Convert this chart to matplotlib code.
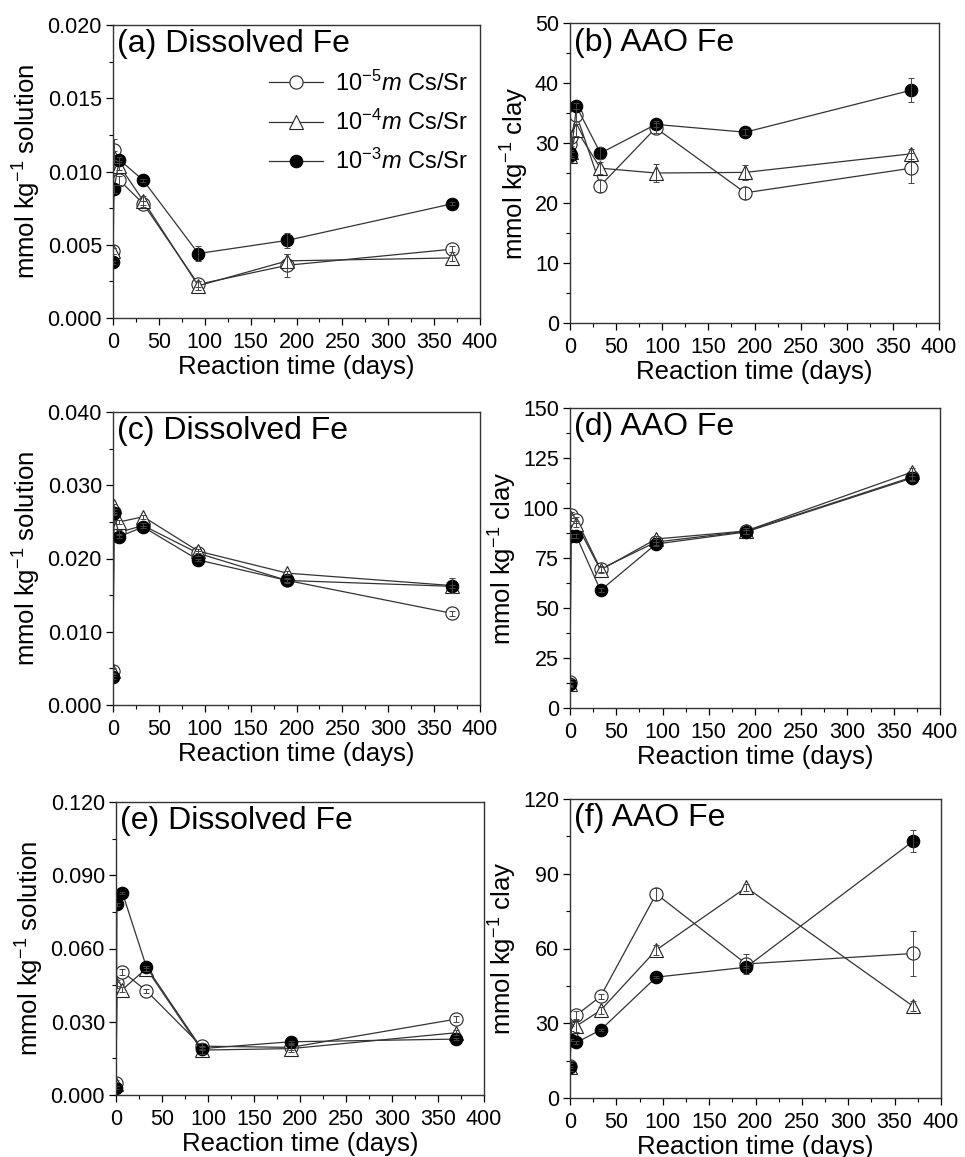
import numpy as np
import matplotlib
matplotlib.use("Agg")
import matplotlib.pyplot as plt
from matplotlib.ticker import MultipleLocator, FormatStrFormatter

plt.rcParams['font.family'] = ['Liberation Sans', 'DejaVu Sans']
plt.rcParams['mathtext.fontset'] = 'custom'
plt.rcParams['mathtext.rm'] = 'Liberation Sans'
plt.rcParams['mathtext.it'] = 'Liberation Sans:italic'

days = [0, 1, 7, 33, 93, 190, 370]
labels = [r'10$^{-5}$$m$ Cs/Sr', r'10$^{-4}$$m$ Cs/Sr', r'10$^{-3}$$m$ Cs/Sr']

# (a) dissolved Fe
a_lo = [0.0046, 0.0115, 0.0094, 0.0078, 0.0023, 0.0036, 0.0047]
a_mid = [0.0046, 0.0110, 0.0104, 0.0080, 0.0022, 0.0039, 0.0041]
a_hi = [0.0038, 0.0088, 0.0108, 0.0094, 0.0044, 0.0053, 0.0078]
a_lo_err = [0.0002, 0.0007, 0.0003, 0.0002, 0.0002, 0.0008, 0.0002]
a_mid_err = [0.0002, 0.0004, 0.0003, 0.0003, 0.0003, 0.0005, 0.0002]
a_hi_err = [0.0001, 0.0003, 0.0002, 0.0001, 0.0005, 0.0005, 0.0001]

# (b) AAO Fe
b_lo = [29.9, 31.0, 34.7, 22.9, 32.5, 21.7, 25.8]
b_mid = [27.9, 28.5, 32.2, 25.8, 25.0, 25.1, 28.2]
b_hi = [28.3, 28.0, 36.1, 28.3, 33.1, 31.8, 38.8]
b_lo_err = [1.0, 1.0, 1.0, 1.0, 0.8, 1.0, 2.5]
b_mid_err = [1.0, 1.0, 1.0, 1.0, 1.5, 1.3, 0.8]
b_hi_err = [0.5, 0.5, 0.5, 1.0, 0.5, 0.5, 2.0]

# (c) dissolved Fe
c_lo = [0.0046, 0.0264, 0.0236, 0.0245, 0.0207, 0.0170, 0.0125]
c_mid = [0.0047, 0.0271, 0.0250, 0.0257, 0.0210, 0.0180, 0.0163]
c_hi = [0.0038, 0.0262, 0.0230, 0.0243, 0.0198, 0.0170, 0.0162]
c_lo_err = [0.0003, 0.0003, 0.0003, 0.0003, 0.0003, 0.0003, 0.0003]
c_mid_err = [0.0003, 0.0003, 0.0003, 0.0003, 0.0003, 0.0003, 0.0010]
c_hi_err = [0.0002, 0.0002, 0.0002, 0.0002, 0.0002, 0.0002, 0.0002]

# (d) AAO Fe
d_lo = [12.8, 96.7, 94.2, 69.5, 83.0, 88.3, 115.5]
d_mid = [12.0, 95.0, 92.0, 69.0, 84.5, 88.5, 118.0]
d_hi = [12.0, 85.8, 85.8, 58.8, 82.0, 88.0, 115.0]
d_lo_err = [1.5, 1.5, 1.5, 1.5, 1.5, 1.5, 2.0]
d_mid_err = [1.5, 1.5, 1.5, 1.5, 1.5, 1.5, 2.0]
d_hi_err = [1.0, 1.0, 1.0, 1.0, 1.0, 1.0, 1.0]

# (e) dissolved Fe
e_lo = [0.0048, 0.0457, 0.0505, 0.0427, 0.0200, 0.0195, 0.0311]
e_mid = [0.0045, 0.0450, 0.0432, 0.0518, 0.0184, 0.0190, 0.0255]
e_hi = [0.0030, 0.0781, 0.0828, 0.0525, 0.0190, 0.0218, 0.0229]
e_lo_err = [0.0012, 0.0012, 0.0012, 0.0008, 0.0012, 0.0012, 0.0012]
e_mid_err = [0.0010, 0.0012, 0.0012, 0.0012, 0.0015, 0.0015, 0.0010]
e_hi_err = [0.0005, 0.0005, 0.0005, 0.0005, 0.0005, 0.0005, 0.0005]

# (f) AAO Fe
f_lo = [13.0, 28.2, 33.3, 40.8, 81.9, 53.8, 58.0]
f_mid = [12.5, 27.5, 28.9, 35.2, 59.4, 84.5, 36.8]
f_hi = [12.5, 23.2, 22.3, 27.3, 48.5, 52.5, 103.1]
f_lo_err = [2.0, 1.5, 1.5, 1.0, 2.5, 4.0, 9.0]
f_mid_err = [1.5, 1.5, 2.5, 1.5, 2.0, 1.5, 2.0]
f_hi_err = [0.5, 0.5, 0.5, 0.5, 0.5, 0.5, 4.5]

W, H = 965, 1157
fig = plt.figure(figsize=(W / 100, H / 100), dpi=100)


def box(x0, x1, y0, y1):
    return [x0 / W, 1 - y1 / H, (x1 - x0) / W, (y1 - y0) / H]


panels = [
    ('(a) Dissolved Fe', box(113, 480, 25, 318), (a_lo, a_mid, a_hi), (a_lo_err, a_mid_err, a_hi_err),
     0.020, 0.005, 0.0025, '%.3f', r'mmol kg$^{-1}$ solution'),
    ('(b) AAO Fe', box(570, 939, 23, 323), (b_lo, b_mid, b_hi), (b_lo_err, b_mid_err, b_hi_err),
     50, 10, 5, '%d', r'mmol kg$^{-1}$ clay'),
    ('(c) Dissolved Fe', box(113, 480, 412, 705), (c_lo, c_mid, c_hi), (c_lo_err, c_mid_err, c_hi_err),
     0.040, 0.010, 0.005, '%.3f', r'mmol kg$^{-1}$ solution'),
    ('(d) AAO Fe', box(570, 940, 408, 708), (d_lo, d_mid, d_hi), (d_lo_err, d_mid_err, d_hi_err),
     150, 25, 12.5, '%d', r'mmol kg$^{-1}$ clay'),
    ('(e) Dissolved Fe', box(116, 484, 802, 1095), (e_lo, e_mid, e_hi), (e_lo_err, e_mid_err, e_hi_err),
     0.120, 0.030, 0.015, '%.3f', r'mmol kg$^{-1}$ solution'),
    ('(f) AAO Fe', box(570, 941, 799, 1098), (f_lo, f_mid, f_hi), (f_lo_err, f_mid_err, f_hi_err),
     120, 30, 15, '%d', r'mmol kg$^{-1}$ clay'),
]

styles = [dict(marker='o', mfc='white', mec='#222222', ms=9.5),
          dict(marker='^', mfc='white', mec='#222222', ms=10),
          dict(marker='o', mfc='black', mec='black', ms=9)]

for i, (title, rect, series, errs, ymax, major, minor, fmt, ylab) in enumerate(panels):
    ax = fig.add_axes(rect)
    for s, e, st, lab in zip(series, errs, styles, labels):
        ax.plot(days, s, color='#333333', lw=0.9, mew=0.8, label=lab, zorder=2, **st)
        ax.errorbar(days, s, yerr=e, fmt='none', ecolor='#444444', elinewidth=0.7,
                    capsize=2.5, capthick=0.7, zorder=3)
    ax.set_xlim(0, 400)
    ax.set_ylim(0, ymax)
    ax.xaxis.set_major_locator(MultipleLocator(50))
    ax.xaxis.set_minor_locator(MultipleLocator(25))
    ax.yaxis.set_major_locator(MultipleLocator(major))
    ax.yaxis.set_minor_locator(MultipleLocator(minor))
    ax.yaxis.set_major_formatter(FormatStrFormatter(fmt))
    ax.tick_params(which='major', direction='out', length=5, width=0.9, labelsize=15.5)
    ax.tick_params(axis='x', which='major', pad=5)
    ax.tick_params(axis='y', which='major', pad=3)
    ax.tick_params(which='minor', direction='out', length=3, width=0.8)
    for sp in ax.spines.values():
        sp.set_linewidth(1.0)
        sp.set_color('#333333')
    ax.set_xlabel('Reaction time (days)', fontsize=18.5, labelpad=1.5)
    ax.set_ylabel(ylab, fontsize=18.5, labelpad=3)
    ax.text(0.01, 0.985, title, transform=ax.transAxes, fontsize=23, va='top', ha='left')
    if i == 0:
        ax.legend(loc='upper left', bbox_to_anchor=(0.425, 0.845), frameon=False, fontsize=17,
                  handlelength=2.3, handletextpad=0.5, labelspacing=0.6, borderpad=0,
                  borderaxespad=0)

fig.savefig('out.png', dpi=100)
